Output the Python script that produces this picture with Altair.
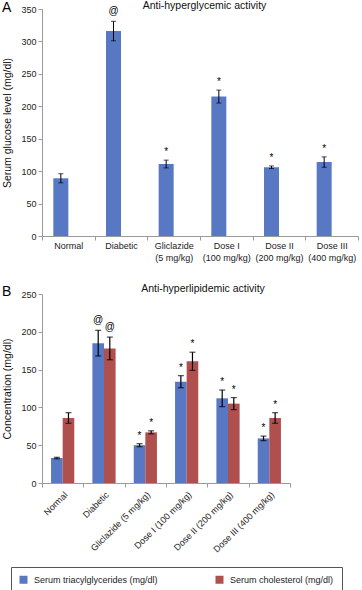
import altair as alt
import pandas as pd

# ---------------- data ----------------
A_groups = ["Normal", "Diabetic", "Gliclazide|(5 mg/kg)", "Dose I|(100 mg/kg)",
            "Dose II|(200 mg/kg)", "Dose III|(400 mg/kg)"]
A_mean = [89, 316, 111, 215, 106, 114]
A_err = [7, 15, 6, 10, 2, 8]
A_sig = ["", "@", "*", "*", "*", "*"]

B_groups = ["Normal", "Diabetic", "Gliclazide (5 mg/kg)", "Dose I (100 mg/kg)",
            "Dose II (200 mg/kg)", "Dose III (400 mg/kg)"]
B_series = ["Serum triacylglycerides (mg/dl)", "Serum cholesterol (mg/dl)"]
tg_mean = [33, 185, 50, 134, 112, 59]
tg_err = [1, 17, 2, 8, 11, 3]
tg_sig = ["", "@", "*", "*", "*", "*"]
ch_mean = [86, 178, 67, 161, 105, 86]
ch_err = [7, 15, 2, 12, 8, 7]
ch_sig = ["", "@", "*", "*", "*", "*"]

BLUE = "#5878C4"
RED = "#B0504E"
FONT = "Liberation Sans, Arial, Helvetica, sans-serif"

dfA = pd.DataFrame({"group": A_groups, "mean": A_mean, "err": A_err, "sig": A_sig})
dfA["lo"] = dfA["mean"] - dfA["err"]
dfA["hi"] = dfA["mean"] + dfA["err"]

rows = []
for s, means, errs, sigs in [(B_series[0], tg_mean, tg_err, tg_sig),
                             (B_series[1], ch_mean, ch_err, ch_sig)]:
    for g, m, e, sg in zip(B_groups, means, errs, sigs):
        rows.append({"group": g, "series": s, "mean": m, "err": e, "sig": sg,
                     "lo": m - e, "hi": m + e})
dfB = pd.DataFrame(rows)

# ---------------- panel A ----------------
OFF_A = -7.5
xA = alt.X("group:N", sort=A_groups, title=None,
           scale=alt.Scale(paddingInner=0, paddingOuter=0),
           axis=alt.Axis(labelAngle=0, labelExpr="split(datum.label, '|')",
                         tickBand="extent", labelPadding=1, labelLineHeight=12.5))


def yA(field):
    return alt.Y(f"{field}:Q", title="Serum glucose level (mg/dl)",
                 scale=alt.Scale(domain=[0, 350], nice=False),
                 axis=alt.Axis(values=list(range(0, 351, 50)), titlePadding=8))


baseA = alt.Chart(dfA).encode(x=xA)
barsA = baseA.mark_bar(size=15, xOffset=OFF_A, color=BLUE).encode(y=yA("mean"))
ruleA = baseA.mark_rule(xOffset=OFF_A, color="black", strokeWidth=1).encode(
    y=yA("lo"), y2="hi:Q")
capLoA = baseA.mark_tick(xOffset=OFF_A, size=5, thickness=1, color="black").encode(y=yA("lo"))
capHiA = baseA.mark_tick(xOffset=OFF_A, size=5, thickness=1, color="black").encode(y=yA("hi"))
atA = baseA.transform_filter("datum.sig == '@'").mark_text(
    xOffset=OFF_A, dy=-10, fontSize=10, font=FONT, baseline="middle").encode(
    y=yA("hi"), text="sig:N")
starA = baseA.transform_filter("datum.sig == '*'").mark_text(
    xOffset=OFF_A, dy=-8, fontSize=10, font=FONT, baseline="middle").encode(
    y=yA("hi"), text="sig:N")
labA = alt.Chart(pd.DataFrame({"t": ["A"]})).mark_text(
    fontSize=14, font=FONT, align="left", baseline="middle").encode(
    text="t:N", x=alt.value(-40), y=alt.value(-1))

chartA = alt.layer(barsA, ruleA, capLoA, capHiA, atA, starA, labA).properties(
    width=316, height=227,
    title=alt.TitleParams("Anti-hyperglycemic activity", fontSize=10.5, font=FONT,
                          fontWeight="normal", offset=-10.5, dx=4.5,
                          anchor="middle", color="#111"))

# ---------------- panel B ----------------
xB = alt.X("group:N", sort=B_groups, title=None,
           scale=alt.Scale(paddingInner=0, paddingOuter=0),
           axis=alt.Axis(labelAngle=-45, labelAlign="right", labelBaseline="top",
                         tickBand="extent", labelPadding=3))
xoB = alt.XOffset("series:N", sort=B_series,
                  scale=alt.Scale(paddingInner=0, paddingOuter=0.78))


def yB(field):
    return alt.Y(f"{field}:Q", title="Concentration (mg/dl)",
                 scale=alt.Scale(domain=[0, 250], nice=False),
                 axis=alt.Axis(values=list(range(0, 251, 50)), titlePadding=8))


colorB = alt.Color("series:N", sort=B_series,
                   scale=alt.Scale(domain=B_series, range=[BLUE, RED]),
                   legend=alt.Legend(title=None, orient="none", legendX=-31, legendY=273,
                                     direction="horizontal", strokeColor="#555",
                                     fillColor="white", padding=8, symbolType="square",
                                     symbolSize=64, symbolStrokeWidth=0,
                                     labelFontSize=9, labelFont=FONT, labelColor="#222",
                                     columnPadding=57, labelOffset=6))

baseB = alt.Chart(dfB).encode(x=xB, xOffset=xoB)
barsB = baseB.mark_bar().encode(y=yB("mean"), color=colorB)
ruleB = baseB.mark_rule(color="black", strokeWidth=1.2).encode(y=yB("lo"), y2="hi:Q")
capLoB = baseB.mark_tick(size=6, thickness=1.2, color="black").encode(y=yB("lo"))
capHiB = baseB.mark_tick(size=6, thickness=1.2, color="black").encode(y=yB("hi"))
atB = baseB.transform_filter("datum.sig == '@'").mark_text(
    dy=-10, fontSize=10, font=FONT, baseline="middle").encode(y=yB("hi"), text="sig:N")
starB = baseB.transform_filter("datum.sig == '*'").mark_text(
    dy=-8, fontSize=10, font=FONT, baseline="middle").encode(y=yB("hi"), text="sig:N")
labB = alt.Chart(pd.DataFrame({"t": ["B"]})).mark_text(
    fontSize=14, font=FONT, align="left", baseline="middle").encode(
    text="t:N", x=alt.value(-40), y=alt.value(-2.5))

chartB = alt.layer(barsB, ruleB, capLoB, capHiB, atB, starB, labB).properties(
    width=248, height=189,
    title=alt.TitleParams("Anti-hyperlipidemic activity", fontSize=10.5, font=FONT,
                          fontWeight="normal", offset=-9.5, dx=37,
                          anchor="middle", color="#111"))

chart = alt.vconcat(chartA, chartB, spacing=20).resolve_scale(
    color="independent").resolve_legend(color="independent").configure(
    padding={"left": 2, "top": 1, "right": 0, "bottom": 0},
    background="white",
).configure_view(stroke=None).configure_axis(
    grid=False, domainColor="#9a9a9a", tickColor="#9a9a9a", tickSize=4,
    labelFont=FONT, labelFontSize=9, labelColor="#222",
    titleFont=FONT, titleFontSize=10.5, titleFontWeight="normal", titleColor="#111",
)

chart.save("out.html", embed_options={"renderer": "svg", "actions": False})
